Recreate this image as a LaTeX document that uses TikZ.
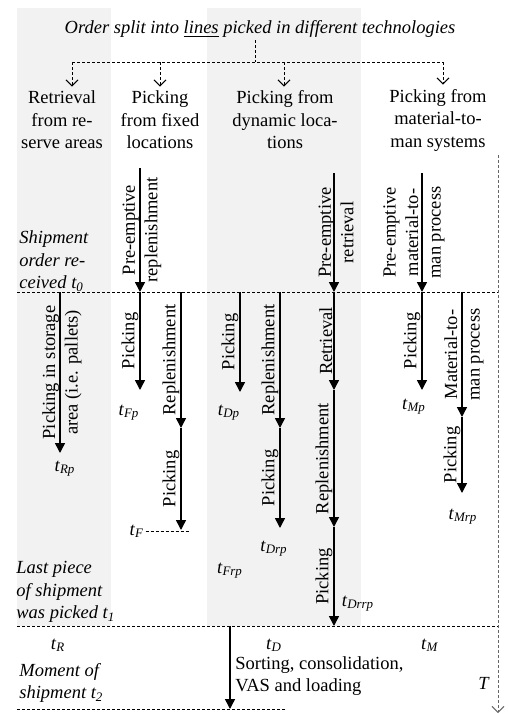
\documentclass[tikz,border=0pt]{standalone}
\usepackage{fontspec}
\setmainfont{Liberation Serif}
\usetikzlibrary{arrows.meta}

\newcommand{\tlab}[1]{\textit{t}\textsubscript{\textit{#1}}}

\begin{document}
\begin{tikzpicture}
[x=0.5pt,y=-0.5pt,
  font=\fontsize{9.25}{11.25}\selectfont,
  band/.style={fill=black!5,draw=none},%
  flow/.style={line width=0.75pt,-{Triangle[width=5pt,length=5pt]}},%
  dotline/.style={dash pattern=on 1.5pt off 1pt,line width=0.5pt},%
  drop/.style={dotline,-{Straight Barb[width=6pt,length=3pt]}},%
  lab/.style={midway,above,rotate=90,inner sep=0.5pt},%
  labtwo/.style={midway,xshift=1pt,rotate=90,align=center,inner sep=0pt},%
  labthree/.style={midway,xshift=-4pt,rotate=90,align=center,inner sep=0pt},%
  event/.style={anchor=west,align=left,inner sep=0pt,font=\fontsize{9.25}{11.25}\selectfont\itshape}]
\useasboundingbox (0,0) rectangle (509,714);
%% shaded columns
\fill[band] (17,8) rectangle (111,626);
\fill[band] (207,8) rectangle (361,626);
%% order split
\node (title) at (260,29) [inner sep=1pt] {\itshape Order split into \underline{lines} picked in different technologies};
\node (hR) at (62,120) [align=center,inner sep=2pt] {Retrieval\\from re-\\serve areas};
\node (hF) at (160,120) [align=center,inner sep=2pt] {Picking\\from fixed\\locations};
\node (hD) at (285,120) [align=center,inner sep=2pt] {Picking from\\dynamic loca-\\tions};
\node (hM) at (438,120) [align=center,inner sep=2pt] {Picking from\\material-to-\\man systems};
\coordinate (split) at (255,62);
\draw[dotline] (split |- title.south) -- (split);
\foreach \colname/\x in {hR/72, hF/160, hD/284, hM/443} {
  \coordinate (d\colname) at (\x,62);
  \draw[drop] (d\colname) -- (d\colname |- \colname.north);
}
\draw[dotline] (dhR) -- (dhM);
%% moments
\node[event] (ev0) at (19,261) {Shipment\\order re-\\ceived \textit{t}\textsubscript{0}};
\node[event] (ev1) at (16,592) {Last piece\\of shipment\\was picked \textit{t}\textsubscript{1}};
\node[event] (ev2) at (19,683) {Moment of\\shipment \textit{t}\textsubscript{2}};
\foreach \linename/\xa/\xb/\y in {t0/17/498/292, t1/17/498/626, t2/17/287/709} {
  \coordinate (\linename L) at (\xa,\y);
  \coordinate (\linename R) at (\xb,\y);
  \draw[dotline] (\linename L) -- (\linename R);
}
%% arrow end points
\foreach \ptname/\x/\y in {R0/60/292, R1/60/453,
    F0/140/168, F1/140/292, F2/140/390, F3/181/292, F4/181/428, F5/181/530,
    Da/240/292, Db/240/392, Dc/280/292, Dd/280/428, De/280/528,
    D0/334/173, D1/334/292, Df/334/390, Dg/334/527, Dh/334/626,
    M0/422/173, M1/422/292, M2/422/390, M3/462/292, M4/462/417, M5/462/493,
    S0/230/626, S1/230/709} {
  \coordinate (\ptname) at (\x,\y);
}
%% activities
\foreach \startpt/\endpt/\txt in {F1/F2/Picking, F3/F4/Replenishment, F4/F5/Picking,
    Da/Db/Picking, Dc/Dd/Replenishment, Dd/De/Picking,
    D1/Df/Retrieval, Df/Dg/Replenishment, Dg/Dh/Picking,
    M1/M2/Picking, M4/M5/Picking} {
  \draw[flow] (\startpt) -- (\endpt) node[lab] {\txt};
}
\draw[flow] (R0) -- (R1) node[labtwo] {Picking in storage\\area (i.e. pallets)};
\draw[flow] (F0) -- (F1) node[labtwo] {Pre-emptive\\replenishment};
\draw[flow] (D0) -- (D1) node[labtwo] {Pre-emptive\\retrieval};
\draw[flow] (M3) -- (M4) node[labtwo] {Material-to-\\man process};
\draw[flow] (M0) -- (M1) node[labthree] {Pre-emptive\\material-to-\\man process};
\draw[flow] (S0) -- (S1);
\node (sort) at (235,676) [anchor=west,align=left,inner sep=0pt] {Sorting, consolidation,\\VAS and loading};
%% finishing times
\foreach \markname/\x/\y/\sub in {tRp/65/469/Rp, tFp/129/413/Fp, tF/137/531/F,
    tDp/229/413/Dp, tDrp/274/549/Drp, tFrp/230/571/Frp, tDrrp/358/604/Drrp,
    tMp/414/407/Mp, tMrp/463/517/Mrp, tR/58/645/R, tD/274/645/D, tM/430/645/M} {
  \node (\markname) at (\x,\y) [inner sep=0.5pt] {\tlab{\sub}};
}
\coordinate (tFend) at (190,531);
\draw[dotline] (tF.east) -- (tFend);
%% time axis
\node (Tmark) at (484,683) {\textit{T}};
\coordinate (Ttop) at (498,155);
\coordinate (Tbot) at (498,713);
\draw[drop,draw=black!60] (Ttop) -- (Tbot);
\end{tikzpicture}
\end{document}
